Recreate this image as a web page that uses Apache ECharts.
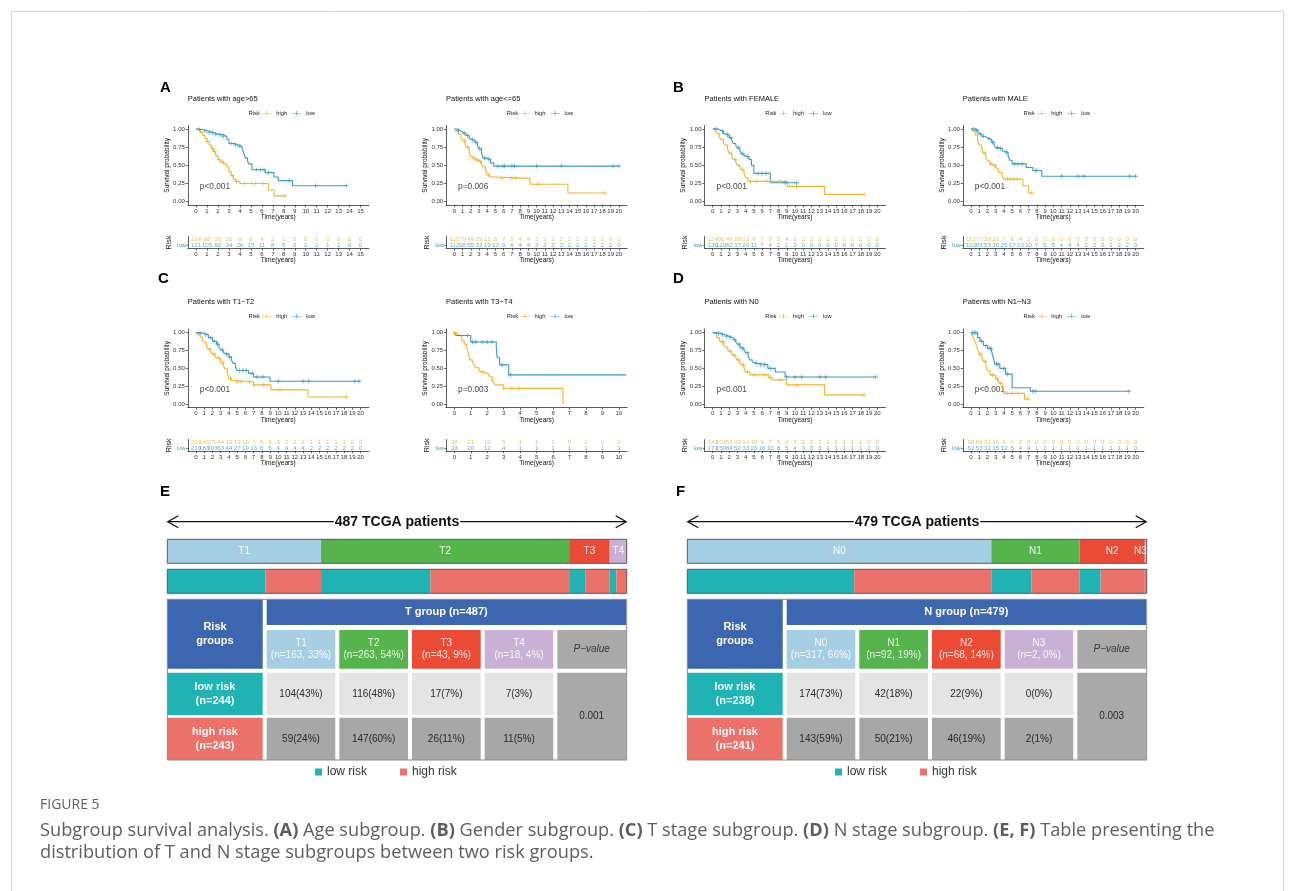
<!DOCTYPE html>
<html>
<head>
<meta charset="utf-8">
<script src="https://cdn.jsdelivr.net/npm/echarts@6/dist/echarts.min.js"></script>
<style>
html,body{margin:0;padding:0;background:#fff;}
#chart{width:1295px;height:891px;}
</style>
</head>
<body>
<div id="chart"></div>
<script>
// ---------- Kaplan–Meier step points: [time in years, survival probability] ----------
const ageOver65High = [[0,1],[0.2,0.98],[0.4,0.95],[0.6,0.91],[0.8,0.87],[1.0,0.83],[1.2,0.78],[1.4,0.73],[1.6,0.69],[1.8,0.63],[2.0,0.58],[2.2,0.55],[2.5,0.52],[2.8,0.48],[3.0,0.41],[3.2,0.36],[3.4,0.31],[3.6,0.28],[4.0,0.25],[6.6,0.16],[7.1,0.08],[8.1,0.08]];
const ageOver65Low = [[0,1],[0.3,0.99],[0.7,0.97],[1.2,0.95],[1.6,0.93],[2.0,0.92],[2.5,0.90],[2.8,0.86],[3.0,0.80],[3.5,0.78],[3.9,0.76],[4.2,0.73],[4.35,0.67],[4.5,0.60],[4.7,0.56],[4.8,0.52],[5.1,0.44],[6.3,0.40],[7.1,0.34],[7.5,0.29],[8.8,0.22],[13.7,0.22]];
const ageUnder65High = [[0,1],[0.2,0.97],[0.5,0.93],[0.8,0.88],[1.0,0.84],[1.3,0.78],[1.5,0.75],[1.8,0.68],[2.0,0.62],[2.3,0.59],[2.6,0.57],[3.0,0.55],[3.3,0.52],[3.5,0.48],[3.8,0.43],[4.0,0.37],[4.3,0.34],[4.8,0.32],[9.2,0.24],[13.8,0.12],[18.3,0.12]];
const ageUnder65Low = [[0,1],[0.3,0.98],[0.7,0.96],[1.0,0.94],[1.4,0.91],[1.8,0.87],[2.0,0.85],[2.5,0.82],[2.8,0.78],[3.0,0.73],[3.3,0.67],[3.5,0.60],[4.0,0.58],[4.4,0.53],[4.8,0.49],[20,0.49]];
const femaleHigh = [[0,1],[0.3,0.97],[0.5,0.94],[0.8,0.89],[1.0,0.86],[1.3,0.81],[1.5,0.78],[1.8,0.72],[2.0,0.67],[2.3,0.62],[2.5,0.58],[2.8,0.54],[3.0,0.50],[3.3,0.47],[3.5,0.44],[3.8,0.39],[4.0,0.33],[4.3,0.28],[9.1,0.21],[13.6,0.10],[18.4,0.10]];
const femaleLow = [[0,1],[0.7,0.98],[1.0,0.97],[1.3,0.94],[1.5,0.92],[2.0,0.88],[2.3,0.85],[2.5,0.80],[2.8,0.77],[3.0,0.74],[3.3,0.70],[3.5,0.66],[3.8,0.63],[4.0,0.62],[4.4,0.58],[4.7,0.50],[5.0,0.39],[7.0,0.26],[10.2,0.26]];
const maleHigh = [[0,1],[0.2,0.97],[0.5,0.92],[0.8,0.84],[1.0,0.78],[1.3,0.72],[1.5,0.67],[1.8,0.60],[2.0,0.56],[2.3,0.52],[2.5,0.50],[3.0,0.46],[3.3,0.43],[3.5,0.40],[3.8,0.35],[4.0,0.31],[6.3,0.22],[7.0,0.12],[7.4,0.12]];
const maleLow = [[0,1],[0.5,0.98],[0.8,0.95],[1.0,0.93],[1.3,0.90],[1.6,0.88],[2.0,0.86],[2.5,0.82],[2.8,0.78],[3.0,0.74],[3.5,0.73],[3.8,0.70],[4.0,0.68],[4.5,0.63],[4.7,0.57],[5.0,0.52],[6.7,0.47],[7.5,0.43],[8.6,0.35],[20,0.35]];
const t12High = [[0,1],[0.2,0.97],[0.5,0.94],[0.8,0.89],[1.0,0.86],[1.3,0.80],[1.5,0.77],[1.8,0.73],[2.0,0.70],[2.3,0.66],[2.5,0.64],[3.0,0.58],[3.3,0.54],[3.5,0.50],[3.8,0.44],[4.0,0.36],[4.3,0.33],[4.8,0.31],[7.0,0.27],[9.1,0.20],[13.6,0.10],[18.3,0.10]];
const t12Low = [[0,1],[0.5,0.99],[1.0,0.97],[1.5,0.93],[2.0,0.88],[2.5,0.84],[2.8,0.80],[3.0,0.76],[3.3,0.72],[3.5,0.70],[4.0,0.66],[4.3,0.62],[4.5,0.57],[4.8,0.52],[5.0,0.47],[6.4,0.43],[7.0,0.38],[9.0,0.32],[20,0.32]];
const t34High = [[0,1],[0.15,0.97],[0.3,0.95],[0.45,0.89],[0.6,0.84],[0.75,0.79],[0.8,0.76],[0.9,0.66],[0.95,0.62],[1.1,0.59],[1.2,0.55],[1.3,0.51],[1.5,0.46],[1.7,0.44],[1.9,0.42],[2.1,0.39],[2.3,0.34],[2.4,0.30],[2.5,0.27],[3.0,0.22],[6.6,0.0]];
const t34Low = [[0,1],[0.1,0.96],[1.0,0.87],[2.55,0.80],[2.6,0.65],[2.75,0.55],[3.3,0.41],[10.45,0.41]];
const n0High = [[0,1],[0.2,0.98],[0.5,0.93],[0.8,0.89],[1.0,0.87],[1.3,0.83],[1.5,0.80],[1.8,0.77],[2.0,0.74],[2.3,0.70],[2.5,0.68],[2.8,0.65],[3.0,0.62],[3.3,0.58],[3.5,0.55],[3.8,0.50],[4.0,0.45],[4.5,0.41],[6.8,0.37],[7.2,0.34],[9.0,0.27],[13.6,0.13],[18.4,0.13]];
const n0Low = [[0,1],[0.5,0.99],[1.0,0.97],[1.5,0.95],[2.0,0.93],[2.5,0.90],[2.8,0.87],[3.0,0.84],[3.3,0.80],[3.5,0.78],[3.8,0.75],[4.0,0.72],[4.3,0.68],[4.5,0.62],[4.8,0.59],[5.0,0.57],[5.5,0.55],[6.7,0.50],[7.6,0.45],[8.8,0.38],[19.8,0.38]];
const n13High = [[0,1],[0.2,0.95],[0.4,0.90],[0.6,0.84],[0.8,0.77],[1.0,0.70],[1.3,0.65],[1.5,0.60],[1.8,0.53],[2.0,0.47],[2.3,0.42],[2.5,0.40],[3.0,0.35],[3.3,0.32],[3.5,0.29],[3.8,0.24],[4.0,0.15],[6.5,0.07],[7.0,0.07]];
const n13Low = [[0,1],[0.8,0.93],[1.1,0.88],[1.5,0.82],[2.0,0.78],[2.5,0.74],[2.7,0.65],[2.9,0.56],[3.5,0.50],[4.2,0.42],[5.0,0.23],[7.2,0.18],[19.2,0.18]];

// ---------- censoring times (years) ----------
const ageOver65HighCensor = [1.0,1.5,1.7,2.1,2.4,3.3,3.7,4.4,5.1,5.4,6.1,8.1];
const ageOver65LowCensor = [0.3,0.8,1.2,1.5,1.8,2.2,2.5,3.2,3.6,4.0,5.5,5.9,6.2,6.6,8.5,10.9,13.7];
const ageUnder65HighCensor = [1.2,1.6,2.4,2.8,3.2,4.2,5.8,7.0,7.5,10.2,18.3];
const ageUnder65LowCensor = [0.5,1.2,1.6,2.2,2.6,3.1,3.7,4.2,5.3,5.9,6.1,7.0,7.3,10.0,13.0,19.3,20];
const femaleHighCensor = [2.1,2.7,3.6,4.6,5.3,6.6,7.0,8.1,10.2,18.4];
const femaleLowCensor = [0.4,1.2,1.8,2.2,3.1,3.6,4.2,5.5,6.0,6.5,8.8,10.2];
const maleHighCensor = [1.6,2.4,2.9,4.4,4.8,5.2,5.6,7.4];
const maleLowCensor = [0.3,0.7,1.1,1.5,2.2,2.6,3.2,3.6,4.3,5.3,5.7,6.2,7.8,8.0,11.0,13.0,13.7,19.3,20];
const t12HighCensor = [1.7,2.2,2.8,3.2,4.2,5.0,5.5,6.5,7.0,8.2,10.2,18.3];
const t12LowCensor = [0.5,1.2,1.8,2.2,2.6,3.2,3.7,4.1,5.3,5.7,6.1,6.8,7.4,8.1,10.0,13.0,13.7,19.3,19.8];
const t34HighCensor = [0,1.7,2.3,3.0,3.5,3.9];
const t34LowCensor = [0.8,1.1,1.3,1.7,2.0,2.3,2.9,3.4];
const n0HighCensor = [1.2,2.1,2.6,3.1,3.7,4.2,5.0,6.3,7.0,8.2,10.2,18.4];
const n0LowCensor = [0.7,1.2,1.7,2.2,2.7,3.2,3.6,4.2,5.3,5.8,6.3,7.0,9.0,10.0,10.8,13.0,13.7,19.8];
const n13HighCensor = [1.1,1.7,2.6,3.2,3.6,4.4,5.0,5.7,7.0];
const n13LowCensor = [0.2,0.4,0.6,1.3,1.8,2.2,2.4,3.1,3.3,4.0,4.4,7.5,7.8,19.2];

// ---------- numbers at risk, one value per year from 0 ----------
const ageOver65RiskHigh = [124,88,36,20,8,6,4,2,1,0,0,0,0,0,0,0];
const ageOver65RiskLow = [121,105,60,34,26,15,11,8,5,2,2,1,1,1,0,0];
const ageUnder65RiskHigh = [115,79,49,29,12,8,7,5,4,4,3,2,2,2,1,1,1,1,1,0,0];
const ageUnder65RiskLow = [112,98,55,33,19,13,9,6,4,4,3,3,3,3,2,2,2,2,2,2,0];
const femaleRiskHigh = [124,90,46,28,13,8,7,5,5,4,3,2,2,2,1,1,1,1,1,0,0];
const femaleRiskLow = [130,120,62,37,20,11,7,4,2,1,0,0,0,0,0,0,0,0,0,0,0];
const maleRiskHigh = [115,77,39,21,7,6,4,2,0,0,0,0,0,0,0,0,0,0,0,0,0];
const maleRiskLow = [103,83,53,30,25,17,13,10,7,5,5,4,4,4,2,2,2,2,2,2,0];
const t12RiskHigh = [201,146,75,44,19,13,10,7,5,4,3,2,2,2,1,1,1,1,1,0,0];
const t12RiskLow = [210,183,103,63,44,27,19,13,8,5,4,4,4,4,2,2,2,2,2,2,0];
const t34RiskHigh = [38,21,10,5,1,1,1,0,0,0,0];
const t34RiskLow = [23,20,12,4,1,1,1,1,1,1,1];
const n0RiskHigh = [141,103,53,33,14,10,9,7,5,4,3,2,2,2,1,1,1,1,1,0,0];
const n0RiskLow = [171,150,84,52,33,23,16,10,8,5,4,3,3,3,1,1,1,1,1,1,0];
const n13RiskHigh = [98,64,32,16,6,4,2,0,0,0,0,0,0,0,0,0,0,0,0,0,0];
const n13RiskLow = [62,53,31,15,12,5,4,4,1,1,1,1,1,1,1,1,1,1,1,1,0];

const survivalTicks = [0, 0.25, 0.5, 0.75, 1];
const riskGroups = ['low', 'high'];

// ---------- T / N stage tables ----------
const tStageNames = ['T1','T2','T3','T4'];
const tStageCounts = [163,263,43,18];
const tStagePct = [33,54,9,4];
const tLowCounts = [104,116,17,7];
const tLowPct = [43,48,7,3];
const tHighCounts = [59,147,26,11];
const tHighPct = [24,60,11,5];
const tTotals = {all:487, low:244, high:243};
const tPValue = '0.001';

const nStageNames = ['N0','N1','N2','N3'];
const nStageCounts = [317,92,68,2];
const nStagePct = [66,19,14,0];
const nLowCounts = [174,42,22,0];
const nLowPct = [73,18,9,0];
const nHighCounts = [143,50,46,2];
const nHighPct = [59,21,19,1];
const nTotals = {all:479, low:238, high:241};
const nPValue = '0.003';

// ---------- styling ----------
const FONT = '"Liberation Sans", Arial, Helvetica, sans-serif';
const HIGH = '#EFB52E';
const LOW = '#3C9BC0';
const AXIS = '#333333';
const TEAL = '#20B3B4';
const SALMON = '#EC7169';
const HEADER_BLUE = '#3D66B0';
const STAGE_COLORS = ['#A6CEE3', '#55B44B', '#EB4B35', '#C9B1D6'];
const CROSS = 'path://M0,4.1h10v1.8h-10z M4.1,0h1.8v10h-1.8z';
const LEG_ICON = 'path://M0,4.3h20v1.4h-20z M9.2,0h1.6v10h-1.6z';

const kmPlots = [
  {title:'Patients with age>65', xMax:15, p:'p<0.001', high:ageOver65High, low:ageOver65Low, highCensor:ageOver65HighCensor, lowCensor:ageOver65LowCensor, riskHigh:ageOver65RiskHigh, riskLow:ageOver65RiskLow},
  {title:'Patients with age<=65', xMax:20, p:'p=0.006', high:ageUnder65High, low:ageUnder65Low, highCensor:ageUnder65HighCensor, lowCensor:ageUnder65LowCensor, riskHigh:ageUnder65RiskHigh, riskLow:ageUnder65RiskLow},
  {title:'Patients with FEMALE', xMax:20, p:'p<0.001', high:femaleHigh, low:femaleLow, highCensor:femaleHighCensor, lowCensor:femaleLowCensor, riskHigh:femaleRiskHigh, riskLow:femaleRiskLow},
  {title:'Patients with MALE', xMax:20, p:'p<0.001', high:maleHigh, low:maleLow, highCensor:maleHighCensor, lowCensor:maleLowCensor, riskHigh:maleRiskHigh, riskLow:maleRiskLow},
  {title:'Patients with T1\u2212T2', xMax:20, p:'p<0.001', high:t12High, low:t12Low, highCensor:t12HighCensor, lowCensor:t12LowCensor, riskHigh:t12RiskHigh, riskLow:t12RiskLow},
  {title:'Patients with T3\u2212T4', xMax:10, p:'p=0.003', high:t34High, low:t34Low, highCensor:t34HighCensor, lowCensor:t34LowCensor, riskHigh:t34RiskHigh, riskLow:t34RiskLow},
  {title:'Patients with N0', xMax:20, p:'p<0.001', high:n0High, low:n0Low, highCensor:n0HighCensor, lowCensor:n0LowCensor, riskHigh:n0RiskHigh, riskLow:n0RiskLow},
  {title:'Patients with N1\u2212N3', xMax:20, p:'p<0.001', high:n13High, low:n13Low, highCensor:n13HighCensor, lowCensor:n13LowCensor, riskHigh:n13RiskHigh, riskLow:n13RiskLow}
];

// ---------- layout ----------
const COL_LEFT = [187.8, 446.1, 704.5, 962.8];
const PANEL_W = 181;
const ROWS = [
  {title:99, legend:113.7, kmTop:125.4, kmH:79.9, riskTop:236.5, riskH:12},
  {title:301.7, legend:316.7, kmTop:329.1, kmH:78.6, riskTop:439.6, riskH:11.4}
];
const PLOT_CELLS = [[0,0],[1,0],[2,0],[3,0],[0,1],[1,1],[2,1],[3,1]];

const grid = [], xAxis = [], yAxis = [], series = [], legend = [], elements = [];

function addGrid(g, x, y) {
  grid.push(Object.assign({outerBoundsMode:'none', containLabel:false}, g));
  const i = grid.length - 1;
  xAxis.push(Object.assign({gridIndex:i}, x));
  yAxis.push(Object.assign({gridIndex:i}, y));
  return i;
}

function survivalAt(steps, t) {
  let s = steps[0][1];
  for (const [time, val] of steps) { if (time <= t) s = val; else break; }
  return s;
}

function txt(x, y, text, o) {
  o = o || {};
  elements.push({
    type:'text', x:x, y:y, z:o.z || 50, silent:true, rotation:o.rotation || 0,
    style:{
      text:text, fill:o.fill || '#111', fontSize:o.fontSize || 10, fontWeight:o.fontWeight || 'normal',
      fontStyle:o.fontStyle || 'normal', fontFamily:o.fontFamily || FONT,
      align:o.align || 'left', textAlign:o.align || 'left',
      verticalAlign:o.verticalAlign || 'middle', textVerticalAlign:o.verticalAlign || 'middle',
      rich:o.rich, backgroundColor:o.backgroundColor, padding:o.padding
    }
  });
}

const axLine = {show:true, onZero:false, lineStyle:{color:AXIS, width:0.8}};
function axTick(vals, len) { return {show:true, length:len || 2, customValues:vals, lineStyle:{color:AXIS, width:0.8}}; }
function axLab(vals, extra) {
  return Object.assign({show:true, customValues:vals, fontSize:6, color:'#333', fontFamily:FONT, margin:3, interval:0, hideOverlap:false}, extra || {});
}
const nameStyle = {fontSize:6.6, color:'#111', fontFamily:FONT};

// ---------- survival panels ----------
kmPlots.forEach((p, i) => {
  const [c, r] = PLOT_CELLS[i];
  const L = COL_LEFT[c], row = ROWS[r];
  const years = [];
  for (let t = 0; t <= p.xMax; t++) years.push(t);
  const timeAxis = (gap) => ({
    type:'value', min:-0.05 * p.xMax, max:1.05 * p.xMax, splitLine:{show:false},
    axisLine:axLine, axisTick:axTick(years), axisLabel:axLab(years),
    name:'Time(years)', nameLocation:'middle', nameGap:gap, nameTextStyle:nameStyle, nameMoveOverlap:false
  });

  const km = addGrid({left:L, top:row.kmTop, width:PANEL_W, height:row.kmH}, timeAxis(8.5), {
    type:'value', min:-0.05, max:1.05, splitLine:{show:false},
    axisLine:axLine, axisTick:axTick(survivalTicks),
    axisLabel:axLab(survivalTicks, {formatter:v => Number(v).toFixed(2)}),
    name:'Survival probability', nameLocation:'middle', nameRotate:90, nameGap:17.5,
    nameTextStyle:{fontSize:6.5, color:'#111', fontFamily:FONT}, nameMoveOverlap:false
  });

  const rk = addGrid({left:L, top:row.riskTop, width:PANEL_W, height:row.riskH}, timeAxis(8.5), {
    type:'category', data:riskGroups,
    axisLine:axLine, axisTick:{show:true, length:1.5, alignWithLabel:true, lineStyle:{color:AXIS, width:0.8}},
    axisLabel:{show:true, fontSize:5.8, margin:2, fontFamily:FONT, color:v => (v === 'high' ? HIGH : LOW)},
    name:'Risk', nameLocation:'middle', nameRotate:90, nameGap:15.5,
    nameTextStyle:{fontSize:7.2, color:'#111', fontFamily:FONT}, nameMoveOverlap:false
  });

  [['high', p.high, p.highCensor, HIGH], ['low', p.low, p.lowCensor, LOW]].forEach(([nm, steps, cens, col]) => {
    series.push({type:'line', name:nm, xAxisIndex:km, yAxisIndex:km, data:steps, step:'end', symbol:'none',
      lineStyle:{color:col, width:1.1}, itemStyle:{color:col}, silent:true, z:3});
    series.push({type:'scatter', xAxisIndex:km, yAxisIndex:km, symbol:CROSS, symbolSize:4.6,
      itemStyle:{color:col}, silent:true, z:4,
      data:cens.map(t => [t, survivalAt(steps, t)])});
  });

  series.push({type:'scatter', xAxisIndex:km, yAxisIndex:km, symbolSize:1, itemStyle:{color:'transparent'}, silent:true,
    data:[[p.xMax / 50, 0.2]],
    label:{show:true, position:'right', distance:0, formatter:p.p, fontSize:8.3, color:'#111', fontFamily:FONT}});

  [['high', p.riskHigh, HIGH], ['low', p.riskLow, LOW]].forEach(([grp, counts, col]) => {
    series.push({type:'scatter', xAxisIndex:rk, yAxisIndex:rk, symbolSize:1, itemStyle:{color:'transparent'}, silent:true,
      data:counts.map((n, t) => [t, grp, n]),
      label:{show:true, position:'inside', formatter:d => String(d.value[2]), fontSize:6.2, color:col, fontFamily:FONT}});
  });

  const cx = L + PANEL_W / 2;
  legend.push({left:cx - 16, top:row.legend - 3.5, data:['high','low'], icon:LEG_ICON, itemWidth:9, itemHeight:5,
    itemGap:5, padding:0, selectedMode:false, textStyle:{fontSize:5.8, color:'#222', fontFamily:FONT}});
  txt(cx - 18.5, row.legend, 'Risk', {fontSize:5.8, align:'right', fill:'#222'});
  txt(L, row.title, p.title, {fontSize:7.5});
});

// panel letters
[['A',160,87.5],['B',673,87.5],['C',158,278.5],['D',673,278.5],['E',160,491.5],['F',676,491.5]].forEach(([s,x,y]) =>
  txt(x, y, s, {fontSize:15, fontWeight:'bold', fill:'#000'}));

// ---------- stage distribution tables ----------
const TABLE_W = 459.4;
const TABLE_H = 160.7;
const TABLE_LEFT = [167.3, 687.3];
const STAGE_BAR_TOP = 539.3, RISK_BAR_TOP = 569.3, BAR_H = 24, TABLE_TOP = 599.3, ARROW_Y = 521.7;
const COLS = [[0,95.4],[99.4,168],[172,240.7],[244.7,313.4],[317.4,386],[390,458.7]];
const HEAD_Y = [0,25.7], SUB_Y = [30.7,69.4], LOW_Y = [73.4,115.7], HIGH_Y = [118.4,160.7];

const stageTables = [
  {label:'T', names:tStageNames, counts:tStageCounts, pct:tStagePct, low:tLowCounts, lowPct:tLowPct,
   high:tHighCounts, highPct:tHighPct, totals:tTotals, pValue:tPValue},
  {label:'N', names:nStageNames, counts:nStageCounts, pct:nStagePct, low:nLowCounts, lowPct:nLowPct,
   high:nHighCounts, highPct:nHighPct, totals:nTotals, pValue:nPValue}
];

stageTables.forEach((tb, ti) => {
  const left = TABLE_LEFT[ti];

  // arrow with patient count
  elements.push({type:'line', silent:true, z:40, shape:{x1:left + 1, y1:ARROW_Y, x2:left + TABLE_W - 1, y2:ARROW_Y},
    style:{stroke:'#111', lineWidth:1.3}});
  elements.push({type:'polyline', silent:true, z:40, shape:{points:[[left + 11, ARROW_Y - 6],[left + 0.5, ARROW_Y],[left + 11, ARROW_Y + 6]]},
    style:{stroke:'#111', lineWidth:1.3, fill:null}});
  elements.push({type:'polyline', silent:true, z:40, shape:{points:[[left + TABLE_W - 11, ARROW_Y - 6],[left + TABLE_W - 0.5, ARROW_Y],[left + TABLE_W - 11, ARROW_Y + 6]]},
    style:{stroke:'#111', lineWidth:1.3, fill:null}});
  txt(left + TABLE_W / 2, ARROW_Y, tb.totals.all + ' TCGA patients',
    {fontSize:14, fontWeight:'bold', align:'center', fill:'#111', backgroundColor:'#fff', padding:[0,1], z:45});

  // stage composition bar
  const gs = addGrid({left:left, top:STAGE_BAR_TOP, width:TABLE_W, height:BAR_H},
    {type:'value', min:0, max:tb.totals.all, show:false}, {type:'category', data:['stage'], show:false});
  tb.names.forEach((s, k) => {
    const last = k === tb.names.length - 1 && tb.counts[k] < 5;
    series.push({type:'bar', name:s, stack:'stage' + ti, xAxisIndex:gs, yAxisIndex:gs, barWidth:'100%', barCategoryGap:'0%',
      data:[tb.counts[k]], itemStyle:{color:STAGE_COLORS[k]}, silent:true,
      label:{show:true, position:last ? 'insideRight' : 'inside', distance:0, formatter:s,
        color:'rgba(255,255,255,0.92)', fontSize:10, fontFamily:FONT}});
  });

  // risk split within each stage
  const gr = addGrid({left:left, top:RISK_BAR_TOP, width:TABLE_W, height:BAR_H},
    {type:'value', min:0, max:tb.totals.all, show:false}, {type:'category', data:['risk'], show:false});
  tb.names.forEach((s, k) => {
    series.push({type:'bar', name:'low risk', stack:'risk' + ti, xAxisIndex:gr, yAxisIndex:gr, barWidth:'100%',
      barCategoryGap:'0%', data:[tb.low[k]], itemStyle:{color:TEAL}, silent:true});
    series.push({type:'bar', name:'high risk', stack:'risk' + ti, xAxisIndex:gr, yAxisIndex:gr, barWidth:'100%',
      barCategoryGap:'0%', data:[tb.high[k]], itemStyle:{color:SALMON}, silent:true});
  });
  [STAGE_BAR_TOP, RISK_BAR_TOP].forEach(y => elements.push({type:'rect', silent:true, z:60,
    shape:{x:left, y:y, width:TABLE_W, height:BAR_H}, style:{fill:null, stroke:'#5a5a5a', lineWidth:1}}));

  // table cells
  const white = 'rgba(255,255,255,0.95)';
  const cells = [];
  cells.push({x:COLS[0], y:[HEAD_Y[0], SUB_Y[1]], fill:HEADER_BLUE, text:'Risk\ngroups', color:'#fff', bold:true, size:11});
  cells.push({x:[COLS[1][0], COLS[5][1]], y:HEAD_Y, fill:HEADER_BLUE,
    text:tb.label + ' group (n=' + tb.totals.all + ')', color:'#fff', bold:true, size:11});
  tb.names.forEach((s, k) => {
    cells.push({x:COLS[k + 1], y:SUB_Y, fill:STAGE_COLORS[k],
      text:s + '\n(n=' + tb.counts[k] + ', ' + tb.pct[k] + '%)', color:'rgba(255,255,255,0.88)', size:10});
    cells.push({x:COLS[k + 1], y:LOW_Y, fill:'#E4E4E4', text:tb.low[k] + '(' + tb.lowPct[k] + '%)', color:'#2a2a2a', size:10});
    cells.push({x:COLS[k + 1], y:HIGH_Y, fill:'#A7A7A7', text:tb.high[k] + '(' + tb.highPct[k] + '%)', color:'#2a2a2a', size:10});
  });
  cells.push({x:COLS[5], y:SUB_Y, fill:'#A9A9A9', text:'P\u2212value', color:'#3a3a3a', italic:true, size:10});
  cells.push({x:COLS[5], y:[LOW_Y[0], HIGH_Y[1]], fill:'#A9A9A9', text:tb.pValue, color:'#2a2a2a', size:10});
  cells.push({x:COLS[0], y:LOW_Y, fill:TEAL, text:'low risk\n(n=' + tb.totals.low + ')', color:white, bold:true, size:11});
  cells.push({x:COLS[0], y:HIGH_Y, fill:SALMON, text:'high risk\n(n=' + tb.totals.high + ')', color:white, bold:true, size:11});

  const gt = addGrid({left:left, top:TABLE_TOP, width:TABLE_W, height:TABLE_H},
    {type:'value', min:0, max:TABLE_W, show:false}, {type:'value', min:0, max:TABLE_H, inverse:true, show:false});
  series.push({type:'custom', xAxisIndex:gt, yAxisIndex:gt, silent:true, clip:false,
    data:cells.map(cl => [cl.x[0], cl.y[0]]),
    renderItem:(params, api) => {
      const cl = cells[params.dataIndex];
      const a = api.coord([cl.x[0], cl.y[0]]), b = api.coord([cl.x[1], cl.y[1]]);
      return {type:'group', children:[
        {type:'rect', shape:{x:a[0], y:a[1], width:b[0] - a[0], height:b[1] - a[1]}, style:{fill:cl.fill}},
        {type:'text', x:(a[0] + b[0]) / 2, y:(a[1] + b[1]) / 2, style:{
          text:cl.text, fill:cl.color, fontSize:cl.size, fontFamily:FONT,
          fontWeight:cl.bold ? 'bold' : 'normal', fontStyle:cl.italic ? 'italic' : 'normal',
          align:'center', verticalAlign:'middle', lineHeight:cl.size * 1.25}}
      ]};
    }});
  elements.push({type:'rect', silent:true, z:60, shape:{x:left, y:TABLE_TOP, width:TABLE_W, height:TABLE_H},
    style:{fill:null, stroke:'#8c8c8c', lineWidth:1}});

  legend.push({left:left + 147.7, top:766, data:['low risk','high risk'], icon:'rect', itemWidth:7, itemHeight:7,
    itemGap:33, padding:0, selectedMode:false, textStyle:{fontSize:12, color:'#333', fontFamily:FONT}});
});

// ---------- figure frame and caption ----------
elements.push({type:'rect', silent:true, z:1, shape:{x:11.5, y:11.5, width:1272, height:900},
  style:{fill:null, stroke:'#d4d4d4', lineWidth:1}});
const CAP_FONT = '"Open Sans", "Noto Sans", sans-serif';
const CAP_SIZE = 18.2;
const CAP_COLOR = '#5e5e5e';
txt(40, 805.5, 'FIGURE 5', {fontSize:14, fill:CAP_COLOR, fontFamily:CAP_FONT});
const capRich = {b:{fontWeight:'bold', fontSize:CAP_SIZE, fill:CAP_COLOR, fontFamily:CAP_FONT}};
txt(40, 830.5, 'Subgroup survival analysis. {b|(A)} Age subgroup. {b|(B)} Gender subgroup. {b|(C)} T stage subgroup. {b|(D)} N stage subgroup. {b|(E, F)} Table presenting the',
  {fontSize:CAP_SIZE, fill:CAP_COLOR, fontFamily:CAP_FONT, rich:capRich});
txt(40, 852.5, 'distribution of T and N stage subgroups between two risk groups.',
  {fontSize:CAP_SIZE, fill:CAP_COLOR, fontFamily:CAP_FONT});

const chart = echarts.init(document.getElementById('chart'), null, {renderer:'canvas'});
chart.setOption({
  animation:false,
  backgroundColor:'#ffffff',
  textStyle:{fontFamily:FONT},
  tooltip:{show:false},
  grid:grid, xAxis:xAxis, yAxis:yAxis, legend:legend, series:series,
  graphic:{elements:elements}
});
</script>
</body>
</html>
